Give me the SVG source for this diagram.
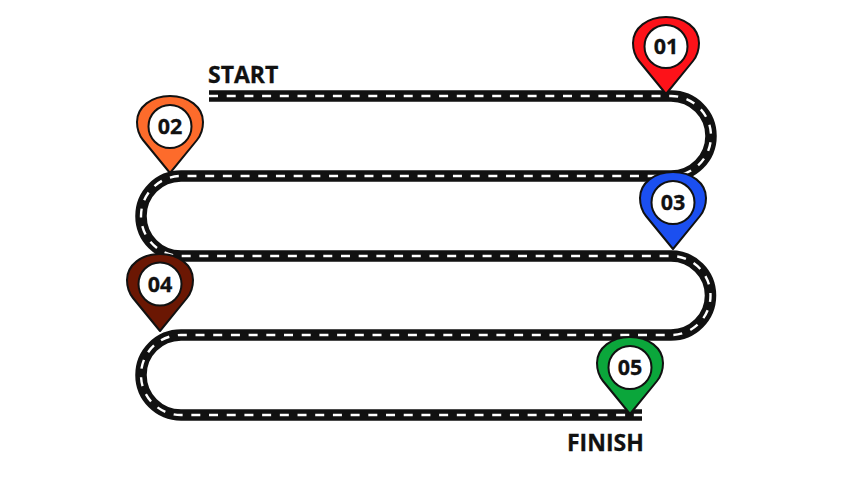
<svg xmlns="http://www.w3.org/2000/svg" width="852" height="480" viewBox="0 0 852 480">
  <style>
    .road { fill: none; stroke-linejoin: round; }
    .bed { stroke: #111; stroke-width: 11.500; }
    .lane { stroke: #fff; stroke-width: 2.400; stroke-dasharray: 9 8.700; }
    .pin { stroke: #111; stroke-width: 2; stroke-linejoin: round; }
    .hole { fill: #fff; stroke: #111; stroke-width: 2; }
    .num { font: 700 21.500px "Open Sans", "Liberation Sans", sans-serif; fill: #111; stroke: #111; stroke-width: 0.300; text-anchor: middle; }
    .cap { font: 700 23px "Open Sans", "Liberation Sans", sans-serif; fill: #111; stroke: #111; stroke-width: 0.300; }
  </style>
  <defs>
    <!-- Map pin with its tip at the origin -->
    <path id="drop" d="M0 0 L-27 -33 C-31 -38 -33 -44 -33 -51 C-33 -66 -18.500 -77 0 -77 C18.500 -77 33 -66 33 -51 C33 -44 31 -38 27 -33 Z"/>
  </defs>
  <g id="connectors">
    <path id="track" class="road bed" d="M209 96 H671 A40 40 0 0 1 671 176 H181 A40 40 0 0 0 181 256 H671 A39.500 39.500 0 0 1 671 335 H181 A40 40 0 0 0 181 415 H642"/>
    <path id="lane-marks" class="road lane" d="M209 96 H671 A40 40 0 0 1 671 176 H181 A40 40 0 0 0 181 256 H671 A39.500 39.500 0 0 1 671 335 H181 A40 40 0 0 0 181 415 H642"/>
  </g>
  <g id="label-start"><text class="cap" x="208" y="83">START</text></g>
  <g id="label-finish"><text class="cap" x="567" y="451">FINISH</text></g>
  <g id="pin-01">
    <use href="#drop" class="pin" x="666" y="94" fill="#fd1219"/>
    <circle class="hole" cx="666" cy="46.500" r="21.500"/>
    <text class="num" x="666" y="54">01</text>
  </g>
  <g id="pin-02">
    <use href="#drop" class="pin" x="170" y="173" fill="#fd6b2b"/>
    <circle class="hole" cx="170" cy="126.500" r="21.500"/>
    <text class="num" x="170" y="134">02</text>
  </g>
  <g id="pin-03">
    <use href="#drop" class="pin" x="673" y="249" fill="#1b4ff0"/>
    <circle class="hole" cx="673" cy="202.500" r="21.500"/>
    <text class="num" x="673" y="210">03</text>
  </g>
  <g id="pin-04">
    <use href="#drop" class="pin" x="160" y="331" fill="#6b1703"/>
    <circle class="hole" cx="160" cy="284" r="21.500"/>
    <text class="num" x="160" y="291.500">04</text>
  </g>
  <g id="pin-05">
    <use href="#drop" class="pin" x="630" y="414" fill="#0ba63b"/>
    <circle class="hole" cx="630" cy="367.500" r="21.500"/>
    <text class="num" x="630" y="375">05</text>
  </g>
</svg>
